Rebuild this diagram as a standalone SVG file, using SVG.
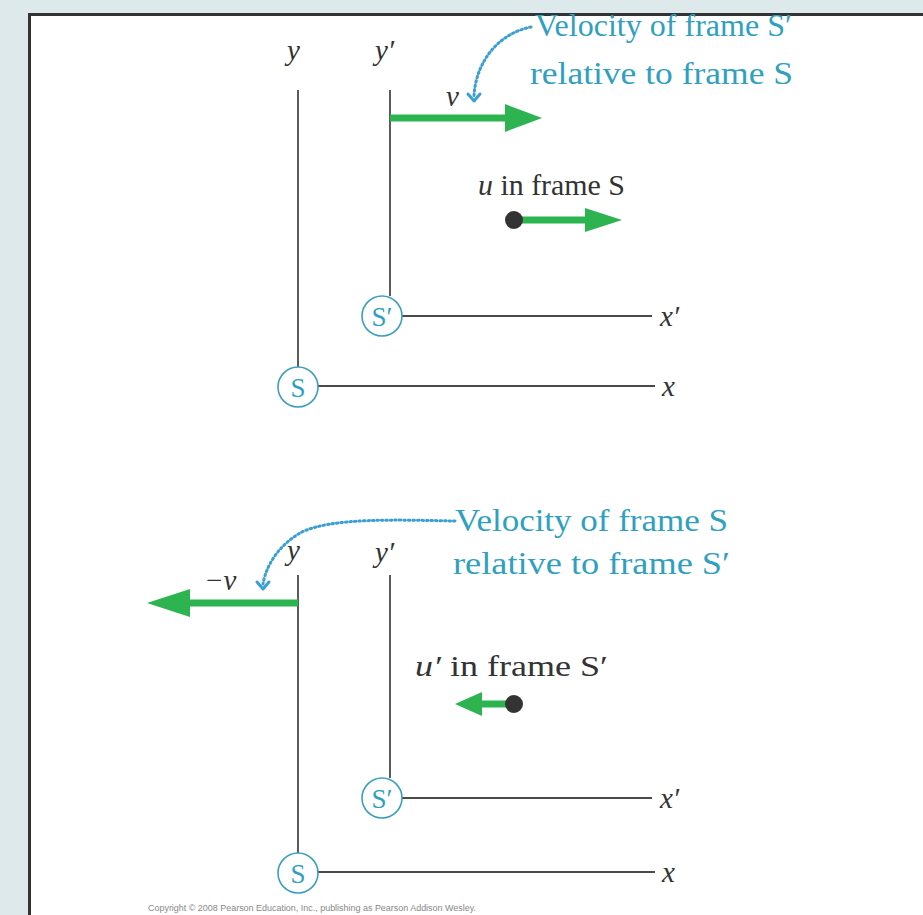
<svg xmlns="http://www.w3.org/2000/svg" width="923" height="915" viewBox="0 0 923 915">
<style>
.axis{stroke:#4a4a4a;stroke-width:1.8;fill:none}
.frame{fill:#fff;stroke:#3a9fbf;stroke-width:1.6}
.ftxt{font-family:"Liberation Serif",serif;font-size:27px;fill:#2f9fbf;text-anchor:middle}
.var{font-family:"Liberation Serif",serif;font-style:italic;font-size:29px;fill:#333}
.lbl{font-family:"Liberation Serif",serif;font-size:30px;fill:#333}
.note{font-family:"Liberation Serif",serif;font-size:31px;fill:#2fa0c0}
.green{stroke:#2db34f;stroke-width:7;fill:none}
.ghead{fill:#2db34f}
.dot{stroke:#3aa0d4;stroke-width:3;fill:none;stroke-dasharray:1.5 3;stroke-linecap:round}
.dhead{stroke:#3aa0d4;stroke-width:3;fill:none;stroke-linecap:round;stroke-linejoin:round}
.copy{font-family:"Liberation Sans",sans-serif;font-size:8.5px;fill:#888}
</style>
<rect x="0" y="0" width="923" height="915" fill="#dde9ea"/>
<rect x="29" y="14" width="894" height="901" fill="#fff"/>
<path d="M29.5 915 V14.5 H923" stroke="#333" stroke-width="3" fill="none"/>
<g id="connectors">
<line class="axis" x1="298" y1="90" x2="298" y2="367"/>
<line class="axis" x1="318" y1="386" x2="655" y2="386"/>
<line class="axis" x1="390" y1="90" x2="390" y2="296"/>
<line class="axis" x1="401" y1="316" x2="652" y2="316"/>
<line class="green" x1="390" y1="118" x2="510" y2="118"/>
<polygon class="ghead" points="505,104 542,118 505,132"/>
<line class="green" x1="514" y1="220" x2="590" y2="220"/>
<polygon class="ghead" points="585,208 622,220 585,232"/>
<path class="dot" d="M531 27 C500 33 476 60 474 96"/>
<path class="dhead" d="M468 94 L474 101 L480 94"/>
<line class="axis" x1="298" y1="575" x2="298" y2="853"/>
<line class="axis" x1="318" y1="872" x2="655" y2="872"/>
<line class="axis" x1="390" y1="575" x2="390" y2="778"/>
<line class="axis" x1="401" y1="798" x2="652" y2="798"/>
<line class="green" x1="298" y1="603" x2="185" y2="603"/>
<polygon class="ghead" points="190,589 147,603 190,617"/>
<line class="green" x1="514" y1="704" x2="478" y2="704"/>
<polygon class="ghead" points="482,692 455,704 482,716"/>
<path class="dot" d="M455 521 C400 520 330 517 300 533 C278 546 266 566 263 584"/>
<path class="dhead" d="M257 582 L263 589 L269 582"/>
</g>
<g id="frameS_top"><circle class="frame" cx="298" cy="387" r="20"/><text class="ftxt" x="298" y="397">S</text></g>
<g id="frameSp_top"><circle class="frame" cx="382" cy="316" r="20"/><text class="ftxt" x="382" y="326">S′</text></g>
<g id="frameS_bot"><circle class="frame" cx="298" cy="873" r="20"/><text class="ftxt" x="298" y="883">S</text></g>
<g id="frameSp_bot"><circle class="frame" cx="382" cy="798" r="20"/><text class="ftxt" x="382" y="808">S′</text></g>
<g id="labels_top">
<text class="var" x="287" y="60">y</text>
<text class="var" x="375" y="60">y′</text>
<text class="var" x="446" y="106">v</text>
<text class="var" x="660" y="326">x′</text>
<text class="var" x="662" y="396">x</text>
<text class="note" x="535" y="36" textLength="257" lengthAdjust="spacingAndGlyphs">Velocity of frame S′</text>
<text class="note" x="530" y="84" textLength="263" lengthAdjust="spacingAndGlyphs">relative to frame S</text>
<text class="lbl" x="478" y="195" textLength="147" lengthAdjust="spacingAndGlyphs"><tspan font-style="italic">u</tspan> in frame S</text>
<circle cx="514" cy="220" r="9" fill="#333"/>
</g>
<g id="labels_bot">
<text class="var" x="287" y="560">y</text>
<text class="var" x="375" y="562">y′</text>
<text class="var" x="204" y="590">−v</text>
<text class="var" x="660" y="808">x′</text>
<text class="var" x="662" y="882">x</text>
<text class="note" x="455" y="531" textLength="273" lengthAdjust="spacingAndGlyphs">Velocity of frame S</text>
<text class="note" x="453" y="574" textLength="277" lengthAdjust="spacingAndGlyphs">relative to frame S′</text>
<text class="lbl" x="415" y="676" textLength="193" lengthAdjust="spacingAndGlyphs"><tspan font-style="italic">u′</tspan> in frame S′</text>
<circle cx="514" cy="704" r="9" fill="#333"/>
</g>
<text class="copy" x="148" y="911" textLength="328" lengthAdjust="spacingAndGlyphs">Copyright © 2008 Pearson Education, Inc., publishing as Pearson Addison Wesley.</text>
</svg>
